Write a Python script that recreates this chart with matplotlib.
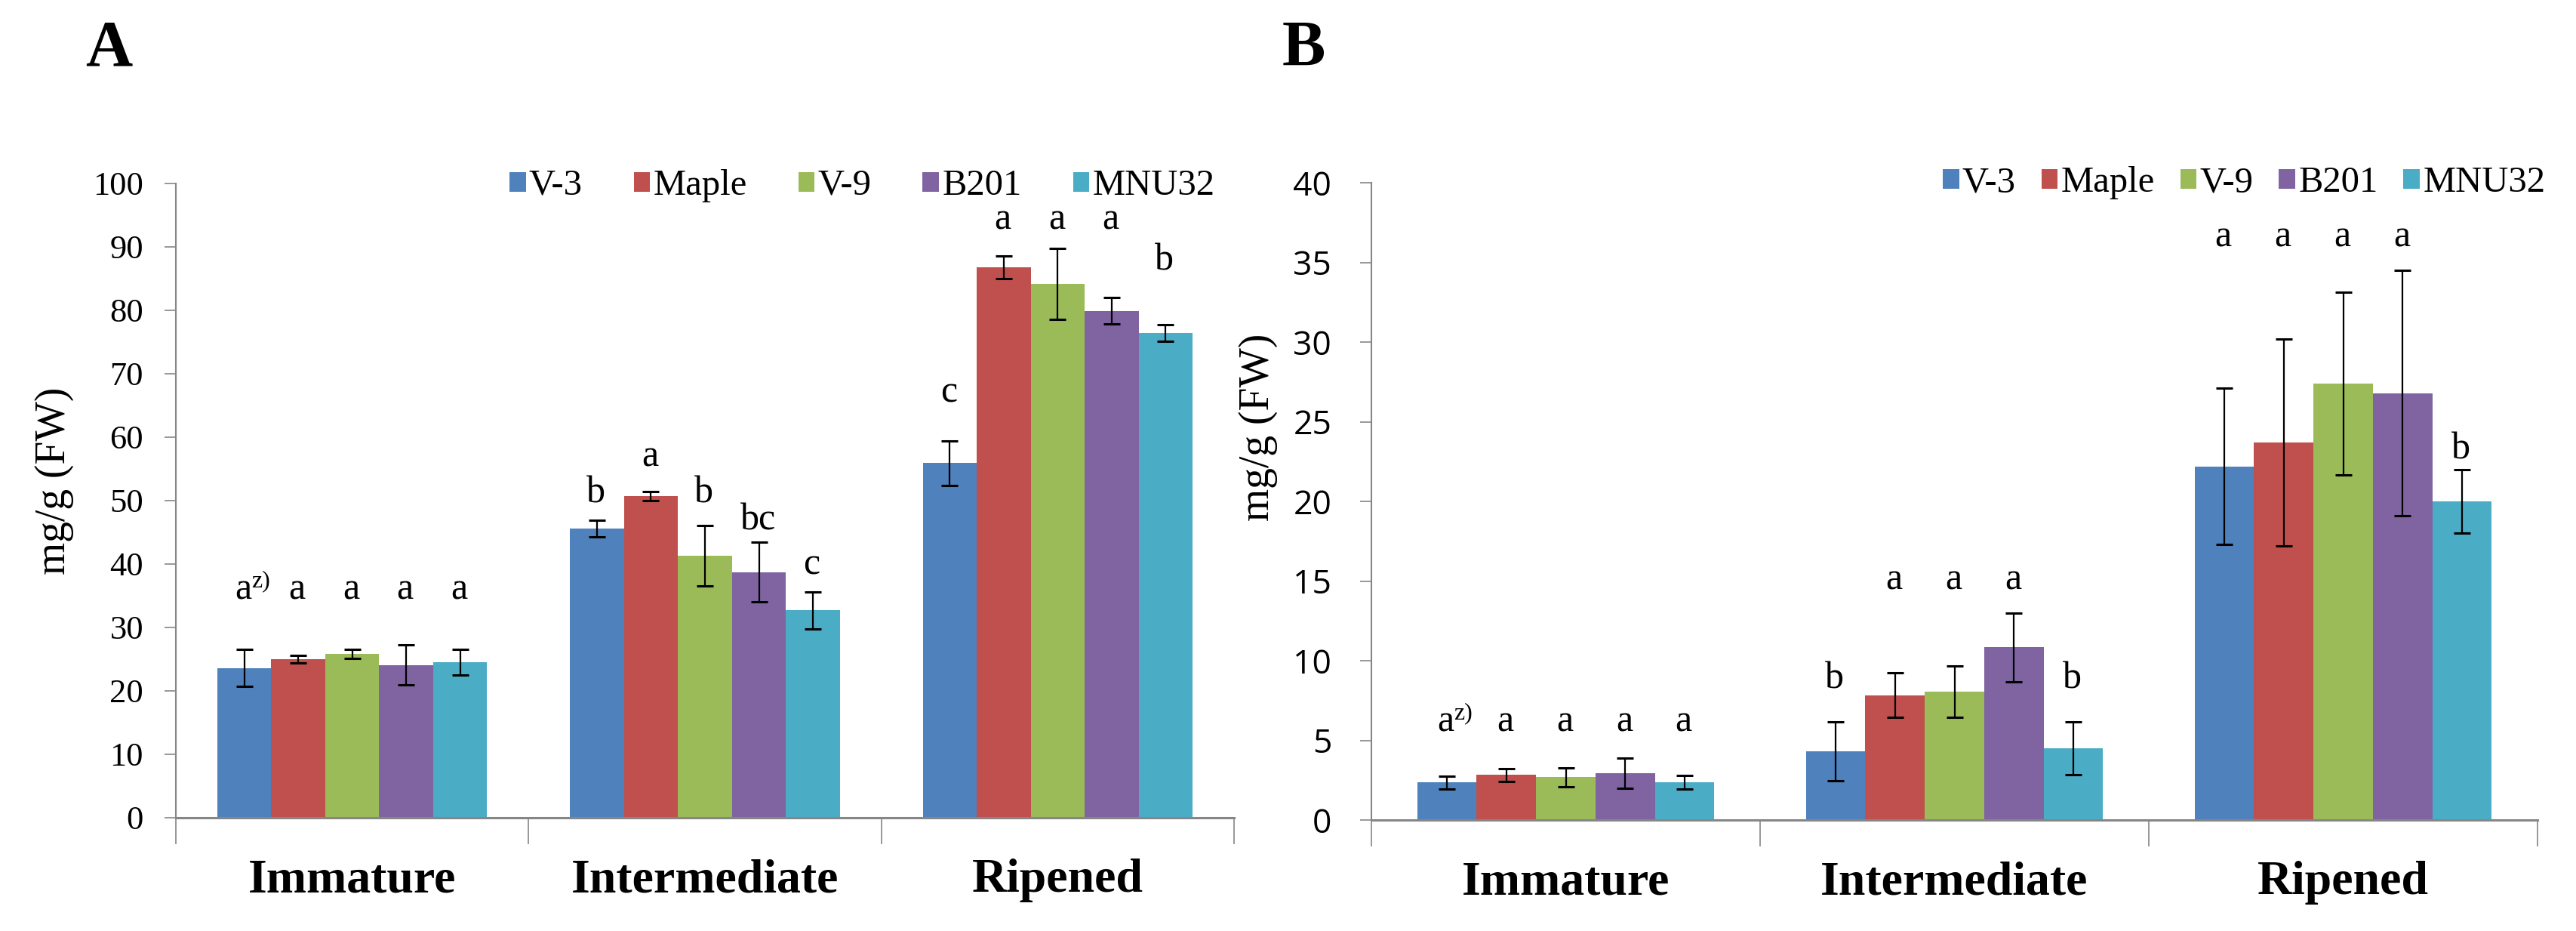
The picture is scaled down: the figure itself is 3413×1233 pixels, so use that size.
import numpy as np
import matplotlib
matplotlib.use('Agg')
import matplotlib.pyplot as plt

plt.rcParams['font.family'] = ['Liberation Serif', 'DejaVu Serif']

stages = ['Immature', 'Intermediate', 'Ripened']
cultivars = ['V-3', 'Maple', 'V-9', 'B201', 'MNU32']
colors = ['#4F81BD', '#C0504D', '#9BBB59', '#8064A2', '#4BACC6']

# panel A : mean and error per cultivar (Immature, Intermediate, Ripened)
a_mean = {
    'V-3':   [23.6, 45.6, 55.9],
    'Maple': [25.0, 50.7, 86.8],
    'V-9':   [25.8, 41.3, 84.2],
    'B201':  [24.1, 38.7, 79.9],
    'MNU32': [24.5, 32.7, 76.4],
}
a_err = {
    'V-3':   [2.9, 1.3, 3.5],
    'Maple': [0.6, 0.7, 1.8],
    'V-9':   [0.7, 4.8, 5.6],
    'B201':  [3.2, 4.7, 2.1],
    'MNU32': [2.0, 2.9, 1.3],
}
a_letters = {
    'V-3':   ['a', 'b', 'c'],
    'Maple': ['a', 'a', 'a'],
    'V-9':   ['a', 'b', 'a'],
    'B201':  ['a', 'bc', 'a'],
    'MNU32': ['a', 'c', 'b'],
}
a_letter_y = {
    'V-3':   [35.8, 51.0, 66.8],
    'Maple': [35.8, 56.7, 94.1],
    'V-9':   [35.8, 51.0, 94.1],
    'B201':  [35.8, 46.7, 94.1],
    'MNU32': [35.8, 39.7, 87.7],
}

# panel B
b_mean = {
    'V-3':   [2.36, 4.3, 22.2],
    'Maple': [2.82, 7.83, 23.7],
    'V-9':   [2.69, 8.06, 27.4],
    'B201':  [2.92, 10.84, 26.8],
    'MNU32': [2.38, 4.51, 20.0],
}
b_err = {
    'V-3':   [0.4, 1.85, 4.9],
    'Maple': [0.4, 1.4, 6.5],
    'V-9':   [0.6, 1.6, 5.75],
    'B201':  [0.95, 2.15, 7.7],
    'MNU32': [0.42, 1.65, 2.0],
}
b_letters = {
    'V-3':   ['a', 'b', 'a'],
    'Maple': ['a', 'a', 'a'],
    'V-9':   ['a', 'a', 'a'],
    'B201':  ['a', 'a', 'a'],
    'MNU32': ['a', 'b', 'b'],
}
b_letter_y = {
    'V-3':   [6.1, 8.8, 36.5],
    'Maple': [6.1, 15.0, 36.5],
    'V-9':   [6.1, 15.0, 36.5],
    'B201':  [6.1, 15.0, 36.5],
    'MNU32': [6.1, 8.8, 23.2],
}

W, H = 3413, 1233
fig = plt.figure(figsize=(W / 100, H / 100), dpi=100)
grey = '#868686'


def panel(rect, mean, err, letters, letter_y, ymax, ystep, tickfont, tickpad,
          leg_center, colspace):
    x0, y0, x1, y1 = rect
    ax = fig.add_axes([x0 / W, 1 - y1 / H, (x1 - x0) / W, (y1 - y0) / H])
    x = np.arange(len(stages))
    w = 0.153
    for j, c in enumerate(cultivars):
        pos = x + (j - 2) * w
        ax.bar(pos, mean[c], w, color=colors[j], label=c, zorder=2)
        ax.errorbar(pos, mean[c], yerr=err[c], fmt='none', ecolor='black',
                    elinewidth=1.6, capsize=8, capthick=2.2, zorder=3)
        for k in range(len(stages)):
            ax.annotate(letters[c][k], xy=(pos[k], letter_y[c][k]),
                        xytext=(-1, -8), textcoords='offset points',
                        ha='center', va='baseline', fontsize=36)
    # footnote mark on the first letter
    ax.annotate('z)', xy=(x[0] - 2 * w, letter_y['V-3'][0]),
                xytext=(7, 4), textcoords='offset points',
                ha='left', va='baseline', fontsize=23)

    ax.set_xlim(-0.5, 2.5)
    ax.set_ylim(0, ymax)
    ax.set_yticks(np.arange(0, ymax + 0.1, ystep))
    ax.set_yticklabels([str(int(v)) for v in np.arange(0, ymax + 0.1, ystep)],
                       family=tickfont, fontsize=32)
    ax.set_xticks([-0.5, 0.5, 1.5, 2.5])
    ax.set_xticklabels([])
    ax.set_xticks(x, minor=True)
    ax.set_xticklabels(stages, minor=True, fontsize=46, fontweight='bold')
    ax.tick_params(axis='x', which='major', length=25, width=1.2,
                   color=grey, direction='out')
    ax.tick_params(axis='x', which='minor', length=0, pad=39)
    ax.tick_params(axis='y', length=11, width=1.2, color=grey,
                   direction='out', pad=tickpad)
    for s in ['top', 'right']:
        ax.spines[s].set_visible(False)
    ax.spines['left'].set_color(grey)
    ax.spines['left'].set_linewidth(1.5)
    ax.spines['bottom'].set_color(grey)
    ax.spines['bottom'].set_linewidth(2.2)

    ax.legend(loc='center', bbox_to_anchor=(leg_center[0] / W, 1 - leg_center[1] / H),
              bbox_transform=fig.transFigure, ncol=5, frameon=False,
              fontsize=35, handlelength=0.45, handleheight=0.45,
              handletextpad=0.08, columnspacing=colspace, borderaxespad=0)
    return ax


panel((233, 243, 1635, 1083), a_mean, a_err, a_letters, a_letter_y,
      100, 10, 'Liberation Serif', 20, (1142, 246), 1.4)
panel((1817, 242, 3362, 1086), b_mean, b_err, b_letters, b_letter_y,
      40, 5, 'Open Sans', 27, (2973, 242), 0.7)

fig.text(72 / W, 1 - 637 / H, 'mg/g (FW)', rotation=90, ha='center',
         va='center', fontsize=40)
fig.text(1667 / W, 1 - 566 / H, 'mg/g (FW)', rotation=90, ha='center',
         va='center', fontsize=40)
fig.text(144 / W, 1 - 66 / H, 'A', ha='center', va='center',
         fontsize=62, fontweight='bold')
fig.text(1727 / W, 1 - 66 / H, 'B', ha='center', va='center',
         fontsize=62, fontweight='bold')

fig.savefig('out.png', dpi=100)
